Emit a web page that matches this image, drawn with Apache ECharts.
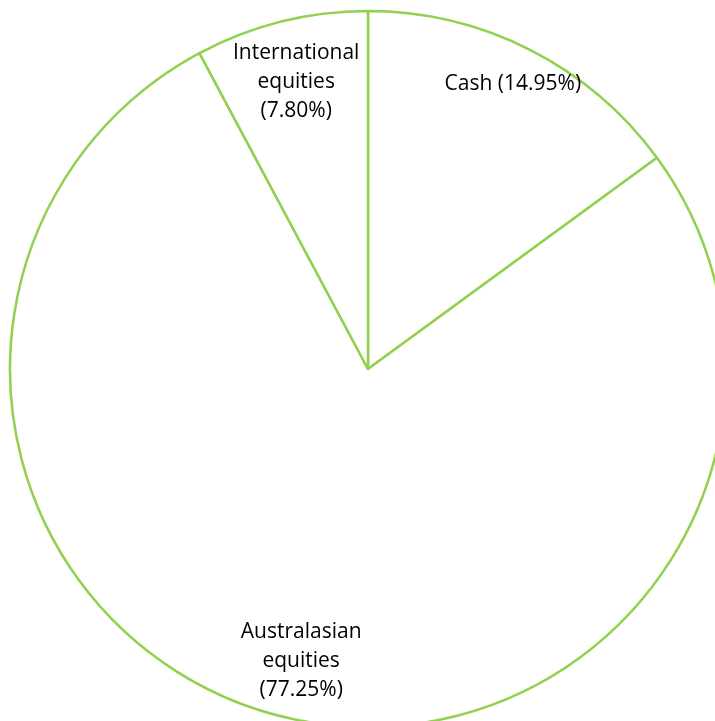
<!DOCTYPE html>
<html><head><meta charset="utf-8">
<script src="https://cdn.jsdelivr.net/npm/echarts@6/dist/echarts.min.js"></script>
<style>html,body{margin:0;padding:0;background:#fff}#c{width:715px;height:721px}</style>
</head><body><div id="c"></div>
<script>
const categories = ['Cash', 'Australasian\nequities', 'International\nequities'];
const values = [14.95, 77.25, 7.80];
const labels = ['Cash (14.95%)', 'Australasian\nequities\n(77.25%)', 'International\nequities\n(7.80%)'];

const labelRadius = [320, 300, 296];
const data = categories.map((c, i) => ({ name: c, value: values[i], label: { formatter: labels[i] } }));
const chart = echarts.init(document.getElementById('c'));
const center = [368, 369];
chart.setOption({
  animation: false,
  series: [
    {
      type: 'pie', center, radius: [0, 358], startAngle: 90, clockwise: true,
      data, silent: true,
      itemStyle: { color: '#ffffff', borderColor: '#92D050', borderWidth: 2.5 },
      label: { show: false }, labelLine: { show: false }, emphasis: { disabled: true }
    },
    {
      type: 'pie', center, radius: [250, 358], startAngle: 90, clockwise: true,
      data, silent: true,
      itemStyle: { color: 'rgba(0,0,0,0)', borderWidth: 0 },
      label: { show: true, position: 'inside', fontFamily: 'Open Sans', fontSize: 21, lineHeight: 29, color: '#000', align: 'center' },
      labelLine: { show: false }, emphasis: { disabled: true },
      labelLayout: function (p) {
        const r = p.labelRect;
        const cx = r.x + r.width / 2, cy = r.y + r.height / 2;
        const vx = cx - center[0], vy = cy - center[1];
        const d = Math.sqrt(vx * vx + vy * vy);
        const k = labelRadius[p.dataIndex] / d - 1;
        return { dx: vx * k, dy: vy * k };
      }
    }
  ]
});
</script></body></html>
